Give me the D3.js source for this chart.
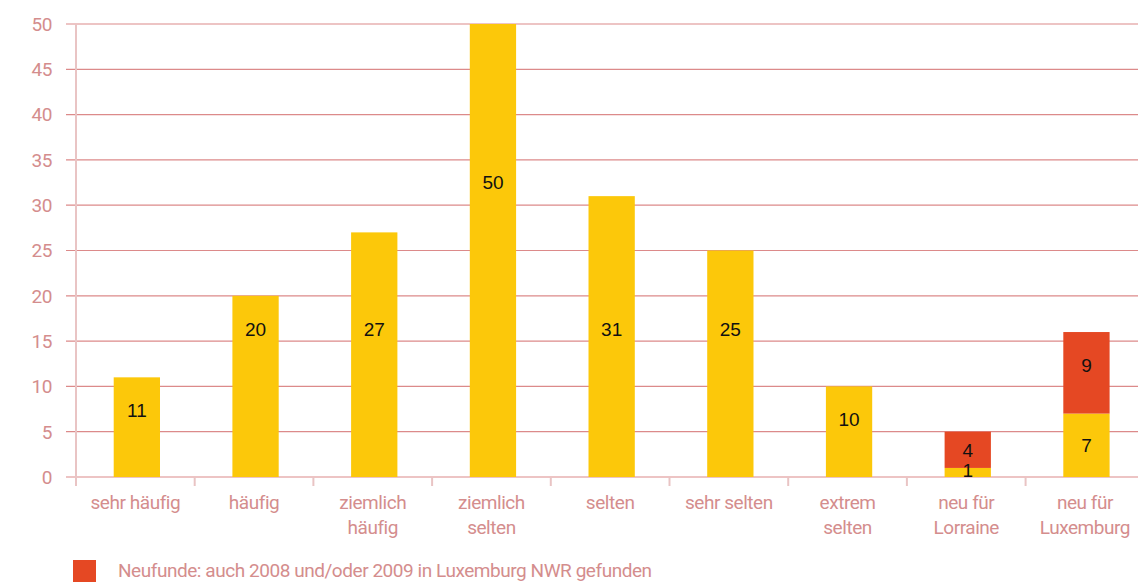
<!DOCTYPE html>
<html><head><meta charset="utf-8">
<script src="https://cdn.jsdelivr.net/npm/d3@7"></script>
<style>
html,body{margin:0;padding:0;background:#fff;}
svg{display:block;}
.lbl{font-family:"Liberation Sans Narrow","Roboto",sans-serif;fill:#d48d8d;font-size:19px;letter-spacing:-0.45px;}
.val{font-family:"Liberation Sans",Arial,sans-serif;fill:#111;font-size:19px;}
</style></head><body>
<svg id="c" width="1138" height="582"></svg>
<script>
const categories = [["sehr häufig"],["häufig"],["ziemlich","häufig"],["ziemlich","selten"],["selten"],["sehr selten"],["extrem","selten"],["neu für","Lorraine"],["neu für","Luxemburg"]];
const baseValues = [11,20,27,50,31,25,10,1,7];
const newValues  = [0,0,0,0,0,0,0,4,9];
const baseLabelAt = [7.4,16.3,16.3,32.5,16.3,16.3,6.4,0.8,3.5];
const newLabelAt  = [null,null,null,null,null,null,null,3,12.3];
const yTicks = [0,5,10,15,20,25,30,35,40,45,50];
const legendText = "Neufunde: auch 2008 und/oder 2009 in Luxemburg NWR gefunden";

const YEL="#fcc80a", RED="#e54823", GRID="#dc8a8a", AX="#e9c4c4";
const svg=d3.select("#c");
const x0=76, bandW=118.7;
const x=d3.scaleBand().domain(d3.range(categories.length)).range([x0+1.5,x0+1.5+bandW*categories.length]).paddingInner(0.61).paddingOuter(0.305);
const xt=d3.scaleBand().domain(d3.range(categories.length)).range([x0,x0+bandW*categories.length]);
const y=d3.scaleLinear().domain([0,50]).range([477,24]);

svg.append("g").selectAll("line").data(yTicks).join("line")
 .attr("x1",66).attr("x2",1138).attr("y1",d=>y(d)).attr("y2",d=>y(d))
 .attr("stroke",GRID).attr("stroke-width",1.2);
svg.append("line").attr("x1",x0).attr("x2",x0).attr("y1",y(50)).attr("y2",486).attr("stroke",AX).attr("stroke-width",2);
svg.append("g").selectAll("text").data(yTicks).join("text").attr("class","lbl")
 .attr("x",52).attr("y",d=>y(d)).attr("dy","0.36em").attr("text-anchor","end").text(d=>d);
svg.append("g").selectAll("line").data(d3.range(categories.length)).join("line")
 .attr("x1",d=>xt(d)).attr("x2",d=>xt(d)).attr("y1",y(0)).attr("y2",486).attr("stroke",AX).attr("stroke-width",2);

svg.append("g").selectAll("rect").data(baseValues).join("rect")
 .attr("x",(d,i)=>x(i)).attr("width",x.bandwidth()).attr("y",d=>y(d)).attr("height",d=>y(0)-y(d)).attr("fill",YEL);
svg.append("g").selectAll("rect").data(newValues).join("rect")
 .attr("x",(d,i)=>x(i)).attr("width",x.bandwidth()).attr("y",(d,i)=>y(baseValues[i]+d)).attr("height",(d,i)=>y(baseValues[i])-y(baseValues[i]+d)).attr("fill",RED);

svg.append("g").selectAll("text").data(baseValues).join("text").attr("class","val")
 .attr("x",(d,i)=>x(i)+x.bandwidth()/2).attr("y",(d,i)=>y(baseLabelAt[i])).attr("dy","0.36em").attr("text-anchor","middle").text(d=>d);
svg.append("g").selectAll("text").data(newValues.map((v,i)=>({v,i})).filter(d=>d.v>0)).join("text").attr("class","val")
 .attr("x",d=>x(d.i)+x.bandwidth()/2).attr("y",d=>y(newLabelAt[d.i])).attr("dy","0.36em").attr("text-anchor","middle").text(d=>d.v);

const cg=svg.append("g").selectAll("text").data(categories).join("text").attr("class","lbl")
 .attr("text-anchor","middle").attr("x",(d,i)=>xt(i)+xt.bandwidth()/2).attr("y",502).attr("dy","0.36em");
cg.selectAll("tspan").data(d=>d).join("tspan").attr("x",function(){return this.parentNode.getAttribute("x");})
 .attr("dy",(d,j)=>j===0?"0.36em":"1.3em").text(d=>d);

svg.append("rect").attr("x",73).attr("y",560).attr("width",23).attr("height",25).attr("fill",RED);
svg.append("text").attr("class","lbl").attr("x",118).attr("y",570).attr("dy","0.36em").text(legendText);
</script></body></html>
